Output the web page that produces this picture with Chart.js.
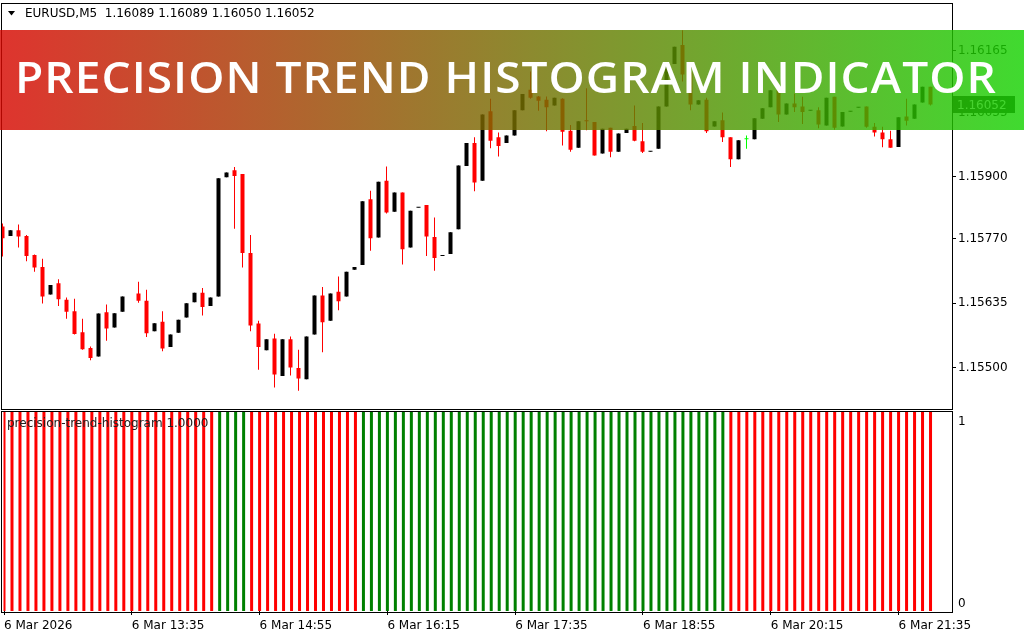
<!DOCTYPE html>
<html>
<head>
<meta charset="utf-8">
<script src="https://cdn.jsdelivr.net/npm/chart.js@4.4.1/dist/chart.umd.min.js"></script>
<style>
  html, body { margin: 0; padding: 0; background: #fff; }
  #wrap { position: relative; width: 1024px; height: 640px; overflow: hidden; }
  #priceChart { position: absolute; left: 0; top: 0; }
  #histChart { position: absolute; left: 0; top: 410px; }
</style>
</head>
<body>
<div id="wrap">
  <canvas id="priceChart" width="1024" height="410"></canvas>
  <canvas id="histChart" width="1024" height="230"></canvas>
</div>
<script>
const symbolInfo = "EURUSD,M5  1.16089 1.16089 1.16050 1.16052";
const bannerTitle = "PRECISION TREND HISTOGRAM INDICATOR";
const indicatorName = "precision-trend-histogram 1.0000";
const lastPrice = 1.16052;

// M5 candles, one per bar (bar 16 is not visible on the chart)
const opens = [
  1.15796, 1.15776, 1.15788, 1.15776, 1.15736, 1.15711, 1.15653, 1.15677, 1.15642, 1.15618,
  1.15574, 1.15541, 1.15523, 1.15616, 1.15584, 1.15617, null, 1.15655, 1.15640, 1.15576,
  1.15596, 1.15543, 1.15573, 1.15605, 1.15637, 1.15657, 1.15629, 1.15649, 1.15899, 1.15914,
  1.15906, 1.15740, 1.15592, 1.15536, 1.15561, 1.15482, 1.15559, 1.15499, 1.15475, 1.15569,
  1.15651, 1.15598, 1.15659, 1.15649, 1.15705, 1.15715, 1.15853, 1.15773, 1.15892, 1.15827,
  1.15867, 1.15752, 1.15835, 1.15841, 1.15774, 1.15734, 1.15738, 1.15790, 1.15923, 1.15971,
  1.15892, 1.16038, 1.15983, 1.15971, 1.15987, 1.16040, 1.16083, 1.16069, 1.16062, 1.16050,
  1.16064, 1.15997, 1.15961, 1.16018, 1.16015, 1.15949, 1.16003, 1.15953, 1.15992, 1.16007,
  1.15975, 1.15953, 1.15959, 1.16048, 1.16137, 1.16177, 1.16119, 1.16052, 1.16062, 1.16006,
  1.16019, 1.15983, 1.15937, 1.15979, 1.15979, 1.16022, 1.16046, 1.16082, 1.16031, 1.16054,
  1.16048, 1.16039, 1.16040, 1.16008, 1.16068, 1.16006, 1.16037, 1.16045, 1.16048, 1.16005,
  1.15993, 1.15979, 1.15963, 1.16027, 1.16022, 1.16056, 1.16089
];
const highs = [
  1.15802, 1.15788, 1.15800, 1.15778, 1.15737, 1.15728, 1.15673, 1.15685, 1.15647, 1.15644,
  1.15602, 1.15544, 1.15613, 1.15632, 1.15614, 1.15649, null, 1.15680, 1.15663, 1.15593,
  1.15618, 1.15569, 1.15600, 1.15635, 1.15657, 1.15667, 1.15647, 1.15897, 1.15909, 1.15921,
  1.15906, 1.15778, 1.15598, 1.15559, 1.15571, 1.15559, 1.15565, 1.15537, 1.15565, 1.15651,
  1.15669, 1.15655, 1.15691, 1.15701, 1.15711, 1.15849, 1.15871, 1.15890, 1.15922, 1.15867,
  1.15867, 1.15829, 1.15836, 1.15841, 1.15815, 1.15735, 1.15784, 1.15924, 1.15971, 1.15983,
  1.16031, 1.16064, 1.15993, 1.15987, 1.16040, 1.16074, 1.16121, 1.16070, 1.16069, 1.16066,
  1.16065, 1.16009, 1.16017, 1.16086, 1.16015, 1.16001, 1.16003, 1.15991, 1.16001, 1.16050,
  1.16013, 1.15954, 1.16048, 1.16137, 1.16173, 1.16208, 1.16119, 1.16061, 1.16066, 1.16017,
  1.16035, 1.15983, 1.15977, 1.15987, 1.16023, 1.16044, 1.16082, 1.16082, 1.16054, 1.16075,
  1.16068, 1.16040, 1.16046, 1.16066, 1.16068, 1.16036, 1.16038, 1.16046, 1.16048, 1.16013,
  1.16005, 1.15997, 1.16025, 1.16064, 1.16052, 1.16089, 1.16089
];
const lows = [
  1.15733, 1.15776, 1.15752, 1.15723, 1.15701, 1.15634, 1.15653, 1.15629, 1.15602, 1.15569,
  1.15537, 1.15515, 1.15523, 1.15556, 1.15584, 1.15617, null, 1.15636, 1.15564, 1.15576,
  1.15534, 1.15543, 1.15573, 1.15605, 1.15637, 1.15609, 1.15629, 1.15649, 1.15899, 1.15791,
  1.15710, 1.15576, 1.15495, 1.15536, 1.15458, 1.15482, 1.15483, 1.15451, 1.15475, 1.15569,
  1.15532, 1.15598, 1.15620, 1.15649, 1.15705, 1.15715, 1.15745, 1.15773, 1.15823, 1.15827,
  1.15716, 1.15752, 1.15835, 1.15734, 1.15703, 1.15734, 1.15738, 1.15790, 1.15923, 1.15870,
  1.15892, 1.15960, 1.15943, 1.15971, 1.15987, 1.16040, 1.16064, 1.16039, 1.15996, 1.16050,
  1.15966, 1.15953, 1.15961, 1.15998, 1.15945, 1.15949, 1.15941, 1.15953, 1.15992, 1.15975,
  1.15950, 1.15953, 1.15959, 1.16048, 1.16137, 1.16100, 1.16040, 1.16052, 1.15992, 1.16006,
  1.15973, 1.15921, 1.15937, 1.15959, 1.15979, 1.16022, 1.16046, 1.16015, 1.16031, 1.16036,
  1.16011, 1.16039, 1.16002, 1.16008, 1.15999, 1.16006, 1.16037, 1.16045, 1.16003, 1.15985,
  1.15962, 1.15961, 1.15963, 1.16008, 1.16022, 1.16056, 1.16050
];
const closes = [
  1.15771, 1.15788, 1.15775, 1.15734, 1.15710, 1.15649, 1.15673, 1.15643, 1.15617, 1.15570,
  1.15538, 1.15520, 1.15613, 1.15582, 1.15614, 1.15649, null, 1.15640, 1.15572, 1.15593,
  1.15540, 1.15569, 1.15600, 1.15635, 1.15657, 1.15627, 1.15647, 1.15897, 1.15909, 1.15902,
  1.15740, 1.15588, 1.15543, 1.15559, 1.15485, 1.15559, 1.15500, 1.15477, 1.15565, 1.15651,
  1.15595, 1.15655, 1.15639, 1.15701, 1.15711, 1.15849, 1.15771, 1.15890, 1.15825, 1.15867,
  1.15748, 1.15829, 1.15836, 1.15775, 1.15730, 1.15735, 1.15784, 1.15924, 1.15971, 1.15888,
  1.16031, 1.15976, 1.15965, 1.15987, 1.16040, 1.16074, 1.16066, 1.16060, 1.16046, 1.16066,
  1.15995, 1.15957, 1.16017, 1.16017, 1.15945, 1.16001, 1.15953, 1.15991, 1.16001, 1.15976,
  1.15953, 1.15954, 1.16048, 1.16137, 1.16173, 1.16115, 1.16052, 1.16061, 1.15996, 1.16017,
  1.15983, 1.15937, 1.15977, 1.15979, 1.16023, 1.16044, 1.16082, 1.16031, 1.16054, 1.16046,
  1.16036, 1.16040, 1.16010, 1.16066, 1.16003, 1.16036, 1.16038, 1.16046, 1.16005, 1.15993,
  1.15979, 1.15961, 1.16025, 1.16018, 1.16052, 1.16089, 1.16052
];

// indicator: R = down trend bar, G = up trend bar
const trend = ("RRRRRRRRRR RRRRRRRRRR RRRRRRRGGG GRRRRRRRRR RRRRRGGGGG GGGGGGGGGG " +
  "GGGGGGGGGG GGGGGGGGGG GGGGGGGGGG GRRRRRRRRR RRRRRRRRRR RRRRRRR").replace(/ /g, "").split("");

const priceTicks = [1.155, 1.15635, 1.1577, 1.159, 1.16035, 1.16165];
const timeTickBars = [0, 16, 32, 48, 64, 80, 96, 112];
const timeLabels = ["6 Mar 2026", "6 Mar 13:35", "6 Mar 14:55", "6 Mar 16:15",
  "6 Mar 17:35", "6 Mar 18:55", "6 Mar 20:15", "6 Mar 21:35"];
const histTicks = [0, 1];

Chart.defaults.font.family = '"DejaVu Sans"';
Chart.defaults.font.size = 12;
Chart.defaults.color = "#000";

const FONT = '12px "DejaVu Sans"';
const xMin = -0.0625, xMax = 118.6875;

function candleColor(i) {
  if (opens[i] === closes[i]) return "#00ff00";
  return closes[i] > opens[i] ? "#000000" : "#ff0000";
}

const wickData = [];
const bodyData = [];
opens.forEach((o, i) => {
  if (o == null) return;
  wickData.push({ x: i, y: [lows[i], highs[i]] });
  bodyData.push({ x: i, y: [o, closes[i]] });
});

const priceOverlay = {
  id: "priceOverlay",
  afterDraw(chart) {
    const ctx = chart.ctx;
    ctx.save();
    ctx.strokeStyle = "#000";
    ctx.lineWidth = 1;
    ctx.strokeRect(1.5, 3.5, 951, 406);

    // symbol header
    ctx.fillStyle = "#000";
    ctx.beginPath();
    ctx.moveTo(8, 11); ctx.lineTo(15, 11); ctx.lineTo(11.5, 15.5); ctx.closePath();
    ctx.fill();
    ctx.font = FONT;
    ctx.textBaseline = "middle";
    ctx.fillText(symbolInfo, 25, 14);

    // current price label
    const py = chart.scales.y.getPixelForValue(lastPrice);
    ctx.fillStyle = "#1e1e1e";
    ctx.fillRect(953, Math.round(py) - 8, 62, 17);
    ctx.fillStyle = "#fff";
    ctx.fillText(lastPrice.toFixed(5), 957, py + 1);

    // banner
    const g = ctx.createLinearGradient(0, 0, 1024, 0);
    g.addColorStop(0, "rgb(215,7,0)");
    g.addColorStop(1, "rgb(22,210,2)");
    ctx.globalAlpha = 0.82;
    ctx.fillStyle = g;
    ctx.fillRect(0, 30, 1024, 100);
    ctx.globalAlpha = 1;
    ctx.font = '600 44px "Open Sans"';
    if ("letterSpacing" in ctx) ctx.letterSpacing = "1px";
    ctx.textBaseline = "alphabetic";
    const w = ctx.measureText(bannerTitle).width;
    ctx.translate(15, 93);
    ctx.scale(982 / w, 1);
    ctx.fillStyle = "#fff";
    ctx.fillText(bannerTitle, 0, 0);
    ctx.restore();
  }
};

const histOverlay = {
  id: "histOverlay",
  afterDraw(chart) {
    const ctx = chart.ctx;
    const y = chart.scales.y;
    ctx.save();
    ctx.strokeStyle = "#000";
    ctx.lineWidth = 1;
    ctx.strokeRect(1.5, 1.5, 951, 201);
    ctx.font = FONT;
    ctx.textBaseline = "middle";
    ctx.fillStyle = "#222";
    ctx.fillText(indicatorName, 7, 14);
    ctx.fillStyle = "#000";
    histTicks.forEach(v => {
      const py = y.getPixelForValue(v) + (v === 1 ? 10 : -7);
      ctx.fillText(String(v), 958, py);
    });
    ctx.restore();
  }
};

new Chart(document.getElementById("priceChart"), {
  type: "bar",
  data: {
    datasets: [
      {
        label: "wick",
        data: wickData,
        barThickness: 1,
        grouped: false,
        inflateAmount: 0,
        order: 2,
        backgroundColor: ctx => candleColor(ctx.raw.x)
      },
      {
        label: "body",
        data: bodyData,
        barThickness: 4,
        minBarLength: 1,
        grouped: false,
        inflateAmount: 0,
        order: 1,
        backgroundColor: ctx => candleColor(ctx.raw.x)
      }
    ]
  },
  options: {
    responsive: false,
    animation: false,
    devicePixelRatio: 1,
    layout: { padding: { left: 2, top: 4, right: 0, bottom: 1 } },
    plugins: { legend: { display: false }, tooltip: { enabled: false } },
    scales: {
      x: { type: "linear", min: xMin, max: xMax, offset: false, grid: { offset: false }, display: false },
      y: {
        position: "right",
        min: 1.1543,
        max: 1.16252,
        afterFit: s => { s.width = 72; },
        afterBuildTicks: s => { s.ticks = priceTicks.map(v => ({ value: v })); },
        ticks: { callback: v => v.toFixed(5), padding: 2, color: "#000" },
        grid: { drawOnChartArea: false, tickLength: 4, color: "#000" },
        border: { display: false }
      }
    }
  },
  plugins: [priceOverlay]
});

new Chart(document.getElementById("histChart"), {
  type: "bar",
  data: {
    datasets: [
      {
        label: "down",
        data: trend.map((t, i) => t === "R" ? { x: i, y: 1 } : null).filter(Boolean),
        backgroundColor: "#ff0000",
        barThickness: 3,
        grouped: false,
        inflateAmount: 0
      },
      {
        label: "up",
        data: trend.map((t, i) => t === "G" ? { x: i, y: 1 } : null).filter(Boolean),
        backgroundColor: "#008000",
        barThickness: 3,
        grouped: false,
        inflateAmount: 0
      }
    ]
  },
  options: {
    responsive: false,
    animation: false,
    devicePixelRatio: 1,
    layout: { padding: { left: 2, top: 2, right: 0, bottom: 0 } },
    plugins: { legend: { display: false }, tooltip: { enabled: false } },
    scales: {
      x: {
        type: "linear",
        min: xMin,
        max: xMax,
        offset: false,
        afterFit: s => { s.height = 29; },
        afterBuildTicks: s => { s.ticks = timeTickBars.map(v => ({ value: v })); },
        ticks: {
          callback: (v, i) => timeLabels[i],
          align: "start",
          maxRotation: 0,
          autoSkip: false,
          padding: 4,
          color: "#000"
        },
        grid: { drawOnChartArea: false, offset: false, tickLength: 4, color: "#000" },
        border: { display: false }
      },
      y: {
        position: "right",
        min: 0,
        max: 1,
        afterFit: s => { s.width = 72; },
        ticks: { display: false },
        grid: { display: false },
        border: { display: false }
      }
    }
  },
  plugins: [histOverlay]
});
</script>
</body>
</html>
